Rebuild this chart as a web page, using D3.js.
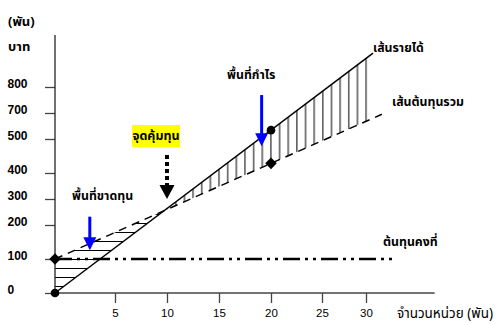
<!DOCTYPE html>
<html><head><meta charset="utf-8">
<script src="https://cdn.jsdelivr.net/npm/d3@7"></script>
<style>
html,body{margin:0;padding:0;background:#fff;}
svg{display:block;}
.th{font-family:Tahoma,'Noto Sans Thai','Noto Sans Thai UI',Garuda,Loma,'DejaVu Sans',sans-serif;}
.num{font-family:'Liberation Sans',Arial,sans-serif;}
</style></head><body>
<svg id="c" width="499" height="325"></svg>
<script>
// ---- data (in axis units: thousand units / thousand baht) ----
const xTickValues = [5, 10, 15, 20, 25, 30];
const yTickValues = [0, 100, 200, 300, 400, 500, 700, 800];
const yTickLabels = ["0", "100", "200", "300", "400", "500", "700", "800"];
const revenueUnits = [0, 30.8];
const revenueBaht = [0, 930];
const totalCostUnits = [0, 31.8];
const totalCostBaht = [100, 690];
const fixedCostUnits = [0, 33.3];
const fixedCostBaht = [100, 100];
const markerUnits = [0, 20];
const lossArrow = [2.9, 232, 126];     // units, top value, tip value
const profitArrow = [19.1, 769, 479];
const breakEvenArrow = [10, 453, 300];

// ---- scales (axis as drawn in the original: ticks are not evenly spaced) ----
const x = d3.scaleLinear().domain([0, 5, 10, 15, 20, 25, 30]).range([55, 115, 167, 219, 271, 322, 366]);
const y = d3.scaleLinear().domain(yTickValues).range([293, 259, 225, 199, 173, 139, 113, 87]);

const svg = d3.select('#c');
const defs = svg.append('defs');
const ph = defs.append('pattern').attr('id', 'hLoss').attr('patternUnits', 'userSpaceOnUse')
  .attr('width', 20).attr('height', 9);
ph.append('line').attr('x1', 0).attr('x2', 20).attr('y1', 7.5).attr('y2', 7.5).attr('stroke', '#000').attr('stroke-width', 1);
const pv = defs.append('pattern').attr('id', 'vProfit').attr('patternUnits', 'userSpaceOnUse')
  .attr('width', 8.65).attr('height', 20);
pv.append('line').attr('x1', 2.8).attr('x2', 2.8).attr('y1', 0).attr('y2', 20).attr('stroke', '#000').attr('stroke-width', 1);

const zip = (a, b) => a.map((v, i) => [v, b[i]]);
const rev = zip(revenueUnits, revenueBaht);
const tc = zip(totalCostUnits, totalCostBaht);
const fc = zip(fixedCostUnits, fixedCostBaht);
const P = d => [x(d[0]), y(d[1])];
const R0 = P(rev[0]), R1 = P(rev[1]), T0 = P(tc[0]), T1 = P(tc[1]);
const onLine = (a, b, px) => a[1] + (b[1] - a[1]) * (px - a[0]) / (b[0] - a[0]);
function intersect(a0, a1, b0, b1) {
  const m1 = (a1[1] - a0[1]) / (a1[0] - a0[0]), m2 = (b1[1] - b0[1]) / (b1[0] - b0[0]);
  const c1 = a0[1] - m1 * a0[0], c2 = b0[1] - m2 * b0[0];
  const xi = (c2 - c1) / (m1 - m2);
  return [xi, m1 * xi + c1];
}
const BE = intersect(R0, R1, T0, T1);
const poly = d3.line();

// hatched areas
svg.append('path').attr('d', poly([R0, BE, T0]) + 'Z').attr('fill', 'url(#hLoss)');
svg.append('path').attr('d', poly([BE, R1, [R1[0], onLine(T0, T1, R1[0])]]) + 'Z').attr('fill', 'url(#vProfit)');

// axes
const gy = svg.append('g').attr('transform', `translate(${x(0)},0)`)
  .call(d3.axisLeft(y).tickValues(yTickValues).tickSize(10).tickFormat((d, i) => yTickLabels[i]));
gy.select('.domain').remove();
gy.selectAll('.tick line').attr('stroke', '#444').attr('stroke-width', 1.3);
gy.selectAll('.tick text').attr('class', 'num').attr('x', 7.5 - x(0)).attr('text-anchor', 'start')
  .attr('dy', '0.32em').attr('transform', 'translate(0,-3)')
  .style('font-size', '12px').style('font-weight', 'bold').attr('fill', '#000');
svg.append('line').attr('x1', x(0)).attr('x2', x(0)).attr('y1', y(1000)).attr('y2', y(0))
  .attr('stroke', '#222').attr('stroke-width', 1.3);

const gx = svg.append('g').attr('transform', `translate(0,${y(0)})`)
  .call(d3.axisBottom(x).tickValues(xTickValues).tickSize(10).tickPadding(6));
gx.select('.domain').remove();
gx.selectAll('.tick line').attr('stroke', '#444').attr('stroke-width', 1.3);
gx.selectAll('.tick text').attr('class', 'num').style('font-size', '11.5px').attr('fill', '#000');
svg.append('line').attr('x1', x(0)).attr('x2', x(37.8)).attr('y1', y(0)).attr('y2', y(0))
  .attr('stroke', '#444').attr('stroke-width', 1.3);

// lines
const line = d3.line().x(d => x(d[0])).y(d => y(d[1]));
svg.append('path').attr('d', line(fc)).attr('fill', 'none').attr('stroke', '#000')
  .attr('stroke-width', 2.5).attr('stroke-dasharray', '17,5,3,5,3,5');
svg.append('path').attr('d', line(tc)).attr('fill', 'none').attr('stroke', '#000')
  .attr('stroke-width', 1.5).attr('stroke-dasharray', '8,6');
svg.append('path').attr('d', line(rev)).attr('fill', 'none').attr('stroke', '#000')
  .attr('stroke-width', 1.5);

// markers
markerUnits.forEach(u => {
  const px = x(u);
  svg.append('circle').attr('cx', px).attr('cy', onLine(R0, R1, px)).attr('r', 4.3).attr('fill', '#000');
  const py = onLine(T0, T1, px);
  svg.append('path').attr('d', d3.symbol(d3.symbolDiamond2, 85)()).attr('transform', `translate(${px},${py})`).attr('fill', '#000');
});

// arrows
function arrow(a, color, dotted) {
  const ax = x(a[0]), top = y(a[1]), tip = y(a[2]);
  const hh = dotted ? 14 : 13, hw = dotted ? 7.5 : 6.5;
  const s = svg.append('line').attr('x1', ax).attr('x2', ax).attr('y1', top).attr('y2', tip - hh + 1)
    .attr('stroke', color);
  if (dotted) s.attr('stroke-width', 4).attr('stroke-dasharray', '4,3');
  else s.attr('stroke-width', 3);
  svg.append('path').attr('d', poly([[ax - hw, tip - hh], [ax + hw, tip - hh], [ax, tip]]) + 'Z').attr('fill', color);
}
arrow(lossArrow, '#0000ff', false);
arrow(profitArrow, '#0000ff', false);
arrow(breakEvenArrow, '#000', true);

// labels
const T = (tx, ty, s, opts = {}) => svg.append('text').attr('class', 'th').attr('x', tx).attr('y', ty)
  .attr('dy', '0.35em').attr('text-anchor', opts.anchor || 'start')
  .style('font-size', (opts.size || 12.3) + 'px').style('font-weight', opts.weight || 'bold').text(s);
T(8, 21, '(พัน)', {size: 13});
T(8, 46, 'บาท', {size: 13});
T(373, 48, 'เส้นรายได้');
T(392, 102, 'เส้นต้นทุนรวม');
T(227, 75, 'พื้นที่กำไร');
T(72, 196, 'พื้นที่ขาดทุน');
T(383, 242, 'ต้นทุนคงที่');
T(397, 313, 'จำนวนหน่วย (พัน)', {weight: 'normal', size: 13.5});
svg.append('rect').attr('x', 132).attr('y', 125).attr('width', 48).attr('height', 22).attr('fill', '#ffff00');
T(156, 136, 'จุดคุ้มทุน', {anchor: 'middle', size: 12.5});
</script>
</body></html>
